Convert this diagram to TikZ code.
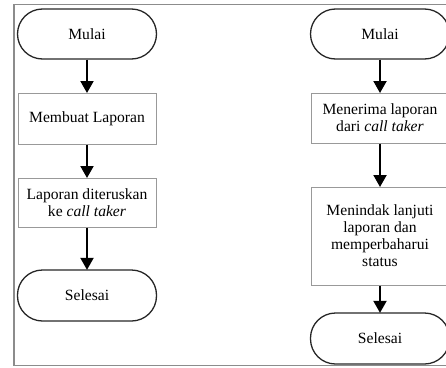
\documentclass[tikz,border=0pt]{standalone}
\usepackage{fontspec}
\setmainfont{Liberation Serif}
\usetikzlibrary{arrows.meta}
\begin{document}
\begin{tikzpicture}[x=1pt,y=-1pt,
  every node/.style={font=\fontsize{15.6}{17}\selectfont, align=center, inner sep=0pt},
  term/.style={draw=black!85, line width=1.3pt, rounded corners=25pt, minimum width=139pt, minimum height=50pt},
  procbox/.style={draw=black!40, line width=1pt, minimum width=138pt},
  flow/.style={line width=2pt, -{Triangle[width=13pt,length=12pt]}, shorten >=-0.5pt}
]
\useasboundingbox (0,0) rectangle (446,367);
\clip (0,0) rectangle (446,367);
\draw[black!45, line width=1.2pt] (470,4.5) -- (14,4.5) -- (14,365.5) -- (470,365.5);
% left column
\node[term] (lstart) at (87,34) {Mulai};
\node[procbox, minimum height=51pt] (l1) at (87,118.5) {Membuat Laporan};
\node[procbox, minimum height=49pt] (l2) at (87,202.5) {Laporan diteruskan\\ke \textit{call taker}};
\node[term, minimum height=51pt] (lend) at (87,295.5) {Selesai};
\draw[flow] (lstart) -- (l1);
\draw[flow] (l1) -- (l2);
\draw[flow] (l2) -- (lend);
% right column
\node[term] (rstart) at (380,34) {Mulai};
\node[procbox, minimum height=50pt] (r1) at (380,118) {Menerima laporan\\dari \textit{call taker}};
\node[procbox, minimum height=98pt] (r2) at (380,236) {Menindak lanjuti\\laporan dan\\memperbaharui\\status};
\node[term, minimum height=51pt] (rend) at (380,338.5) {Selesai};
\draw[flow] (rstart) -- (r1);
\draw[flow] (r1) -- (r2);
\draw[flow] (r2) -- (rend);
\end{tikzpicture}
\end{document}
